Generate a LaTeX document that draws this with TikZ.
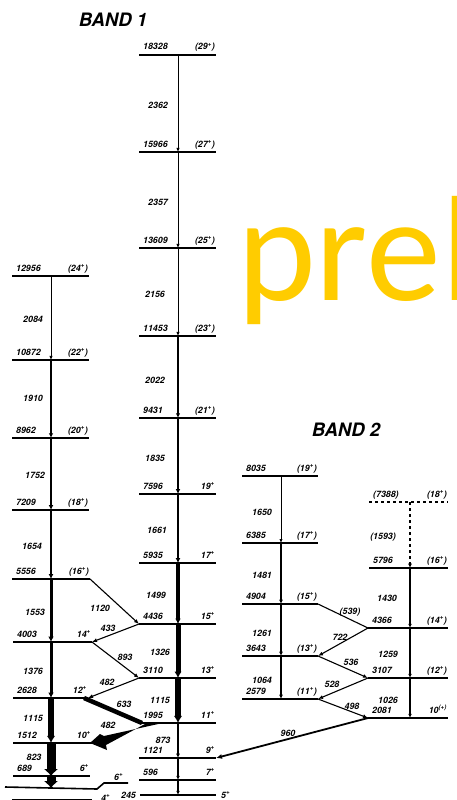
\documentclass[tikz,border=0pt]{standalone}
\usepackage{fontspec}
\setmainfont{TeX Gyre Heros}
\newfontfamily\prelfont{Carlito}
\usetikzlibrary{arrows.meta}
\definecolor{prelc}{RGB}{255,204,0}
\tikzset{
  level/.style={line width=1.6pt},
  lab/.style={font=\fontsize{8.8}{9}\selectfont\bfseries\itshape, inner sep=0pt},
  tr/.style={font=\fontsize{8.8}{9}\selectfont\bfseries\itshape, inner sep=0pt},
  title/.style={font=\fontsize{18.5}{20}\selectfont\bfseries\itshape, inner sep=0pt},
  prel/.style={font=\prelfont\fontsize{150}{150}\selectfont, text=prelc, inner sep=0pt},
  vt/.style={line width=#1, -{Latex[length=3.5pt 0.6,width=2.5pt 1]}},
  cross/.style={line width=1.1pt, -{Latex[length=5pt,width=4pt]}},
}
\newcommand\Lev[8][]{%
  \coordinate (#2-l) at (#3,#6);
  \coordinate (#2-r) at (#4,#6);
  \coordinate (#2) at (#5,#6);
  \draw[level,#1] (#2-l) -- (#2-r);
  \node[lab,anchor=base west] (#2-e) at ({#3+4},{#6-5}) {#7};
  \node[lab,anchor=base east] (#2-s) at ({#4-1},{#6-5}) {#8};
}
\begin{document}
\begin{tikzpicture}[x=1pt,y=-1pt]
\useasboundingbox (0,0) rectangle (456,800);
\clip (0,0) rectangle (456,800);

% watermark
\node[prel, anchor=base west] (prel) at (237,300) {prel};

% titles
\node[title] (b1) at (113,20) {BAND 1};
\node[title] (b2) at (346,430) {BAND 2};

% ---- Band 1, right column
\Lev{R29}{139}{216}{178}{55}{18328}{(29\textsuperscript{+})}
\Lev{R27}{139}{216}{178}{152}{15966}{(27\textsuperscript{+})}
\Lev{R25}{139}{216}{178}{248}{13609}{(25\textsuperscript{+})}
\Lev{R23}{139}{216}{178}{336}{11453}{(23\textsuperscript{+})}
\Lev{R21}{139}{216}{178}{418}{9431}{(21\textsuperscript{+})}
\Lev{R19}{139}{216}{178}{494}{7596}{19\textsuperscript{+}}
\Lev{R17}{139}{216}{178}{563}{5935}{17\textsuperscript{+}}
\Lev{R15}{139}{216}{178}{624}{4436}{15\textsuperscript{+}}
\Lev{R13}{139}{216}{178}{678}{3110}{13\textsuperscript{+}}
\Lev{R11}{139}{216}{178}{723}{1995}{11\textsuperscript{+}}
\Lev{R9}{139}{216}{178}{758}{1121}{9\textsuperscript{+}}
\Lev{R7}{139}{216}{178}{780}{596}{7\textsuperscript{+}}
\coordinate (R5-l) at (140,795);
\coordinate (R5-r) at (216,795);
\coordinate (R5) at (178,795);
\draw[level] (R5-l) -- (R5-r);
\node[lab,anchor=base east] (R5-e) at (136,798) {245};
\node[lab,anchor=base west] (R5-s) at (221,798) {5\textsuperscript{+}};

\draw[vt=1pt] (R29) -- (R27);
\draw[vt=0.9pt] (R27) -- (R25);
\draw[vt=1pt] (R25) -- (R23);
\draw[vt=1.8pt] (R23) -- (R21);
\draw[vt=2.2pt] (R21) -- (R19);
\draw[vt=2.5pt] (R19) -- (R17);
\draw[vt=3.2pt] (R17) -- (R15);
\draw[vt=5pt] (R15) -- (R13);
\draw[vt=6pt] (R13) -- (R11);
\draw[vt=1.4pt] (R11) -- (R9);
\draw[vt=1.2pt] (R9) -- (R7);
\draw[vt=1.2pt] (R7) -- (R5);

% ---- Band 1, left column
\Lev{L24}{12}{89}{51}{276}{12956}{(24\textsuperscript{+})}
\Lev{L22}{12}{89}{51}{360}{10872}{(22\textsuperscript{+})}
\Lev{L20}{12}{89}{51}{438}{8962}{(20\textsuperscript{+})}
\Lev{L18}{12}{89}{51}{510}{7209}{(18\textsuperscript{+})}
\Lev{L16}{12}{90}{51}{579}{5556}{(16\textsuperscript{+})}
\Lev{L14}{13}{92}{51}{642}{4003}{14\textsuperscript{+}\hspace{3pt}}
\Lev{L12}{13}{88}{51}{698}{2628}{12\textsuperscript{+}\hspace{3pt}}
\Lev{L10}{13}{92}{51}{743}{1512}{10\textsuperscript{+}\hspace{3pt}}
\Lev{L6}{13}{90}{51}{776}{689}{6\textsuperscript{+}}

% ground band pieces
\coordinate (G6a) at (5,787);
\coordinate (G6b) at (97,789);
\coordinate (G6c) at (104,783);
\coordinate (G6d) at (128,783);
\coordinate (G6) at (51,788);
\draw[level] (G6a) -- (G6b) -- (G6c) -- (G6d);
\node[lab,anchor=base west] (G6-s) at (114,780) {6\textsuperscript{+}};
\coordinate (G4-l) at (12,800);
\coordinate (G4-r) at (92,800);
\draw[level] (G4-l) -- (G4-r);
\node[lab,anchor=base west] (G4-s) at (101,801.5) {4\textsuperscript{+}};

\draw[vt=1pt] (L24) -- (L22);
\draw[vt=2pt] (L22) -- (L20);
\draw[vt=2.2pt] (L20) -- (L18);
\draw[vt=2.5pt] (L18) -- (L16);
\draw[vt=3pt] (L16) -- (L14);
\draw[vt=3pt] (L14) -- (L12);
\draw[vt=6pt] (L12) -- (L10);
\draw[line width=9pt, -{Latex[length=7pt,width=15pt]}] (L10) -- (L6);
\draw[line width=9pt, -{Latex[length=7pt,width=15pt]}] (L6) -- (G6);

% cross transitions band 1
\draw[cross] (L16-r) -- (R15-l);
\draw[cross] (R15-l) -- (L14-r);
\draw[cross] (L14-r) -- (R13-l);
\draw[cross] (R13-l) -- (L12-r);
\coordinate (c633a) at (84,698);
\coordinate (c633b) at (142,723);
\draw[line width=4.5pt] (c633a) -- (c633b);
\coordinate (w1) at (165,722.5);
\coordinate (w2) at (104,736);
\coordinate (w3) at (100,734);
\coordinate (w4) at (90,743);
\coordinate (w5) at (107,750);
\coordinate (w6) at (106,745);
\coordinate (w7) at (145,724);
\fill (w1) -- (w2) -- (w3) -- (w4) -- (w5) -- (w6) -- (w7) -- cycle;

% transition labels band 1
\node[tr] (t2362) at (158,105) {2362};
\node[tr] (t2357) at (158,202) {2357};
\node[tr] (t2156) at (155,294) {2156};
\node[tr] (t2022) at (155,380) {2022};
\node[tr] (t1835) at (155,458) {1835};
\node[tr] (t1661) at (157,530) {1661};
\node[tr] (t1499) at (156,595) {1499};
\node[tr] (t1326) at (160,652) {1326};
\node[tr] (t1115r) at (160,700) {1115};
\node[tr] (t873) at (163,740) {873};
\node[tr] (t2084) at (33,319) {2084};
\node[tr] (t1910) at (33,398) {1910};
\node[tr] (t1752) at (35,475) {1752};
\node[tr] (t1654) at (32,546) {1654};
\node[tr] (t1553) at (35,612) {1553};
\node[tr] (t1376) at (33,671) {1376};
\node[tr] (t1115l) at (33,718) {1115};
\node[tr] (t823) at (34,757) {823};
\node[tr] (t1120) at (100,608) {1120};
\node[tr] (t433) at (108,628) {433};
\node[tr] (t893) at (125,657) {893};
\node[tr] (t482a) at (107,682) {482};
\node[tr] (t633) at (124,704) {633};
\node[tr] (t482b) at (108,725) {482};

% ---- Band 2, left column
\Lev{P19}{242}{318}{281}{476}{8035}{(19\textsuperscript{+})}
\Lev{P17}{242}{318}{281}{543}{6385}{(17\textsuperscript{+})}
\Lev{P15}{242}{318}{281}{604}{4904}{(15\textsuperscript{+})}
\Lev{P13}{242}{318}{281}{656}{3643}{(13\textsuperscript{+})}
\Lev{P11}{242}{318}{281}{699}{2579}{(11\textsuperscript{+})}
% ---- Band 2, right column
\Lev[dashed,line width=1.2pt]{Q18}{369}{448}{410}{502}{(7388)}{(18\textsuperscript{+})}
\Lev{Q16}{369}{448}{410}{568}{5796}{(16\textsuperscript{+})}
\Lev{Q14}{368}{448}{410}{628}{4366}{(14\textsuperscript{+})}
\Lev{Q12}{368}{448}{410}{678}{3107}{(12\textsuperscript{+})}
\Lev[line width=2.4pt]{Q10}{368}{448}{410}{718}{2081}{10\textsuperscript{(+)}}

\draw[vt=0.8pt] (P19) -- (P17);
\draw[vt=1.3pt] (P17) -- (P15);
\draw[vt=1.3pt] (P15) -- (P13);
\draw[vt=1.3pt] (P13) -- (P11);
\draw[vt=1.5pt, dashed] (Q18) -- (Q16);
\draw[vt=1.2pt] (Q16) -- (Q14);
\draw[vt=1.2pt] (Q14) -- (Q12);
\draw[vt=1.2pt] (Q12) -- (Q10);

\draw[line width=1.1pt] (P15-r) -- (Q14-l);
\draw[cross] (Q14-l) -- (P13-r);
\draw[cross] (P13-r) -- (Q12-l);
\draw[cross] (Q12-l) -- (P11-r);
\draw[cross] (P11-r) -- (Q10-l);
\draw[line width=1.8pt, -{Latex[length=6pt,width=5pt]}] (Q10-l) -- (R9-r);

\node[tr] (t1650) at (262,512) {1650};
\node[tr] (t1481) at (262,575) {1481};
\node[tr] (t1261) at (262,633) {1261};
\node[tr] (t1064) at (262,680) {1064};
\node[tr] (t1593) at (383,537) {(1593)};
\node[tr] (t1430) at (387,598) {1430};
\node[tr] (t1259) at (388,654) {1259};
\node[tr] (t1026) at (388,700) {1026};
\node[tr] (t539) at (350,612) {(539)};
\node[tr] (t722) at (340,637) {722};
\node[tr] (t536) at (351,662) {536};
\node[tr] (t528) at (332,684) {528};
\node[tr] (t498) at (352,706) {498};
\node[tr] (t960) at (288,733) {960};
\end{tikzpicture}
\end{document}
